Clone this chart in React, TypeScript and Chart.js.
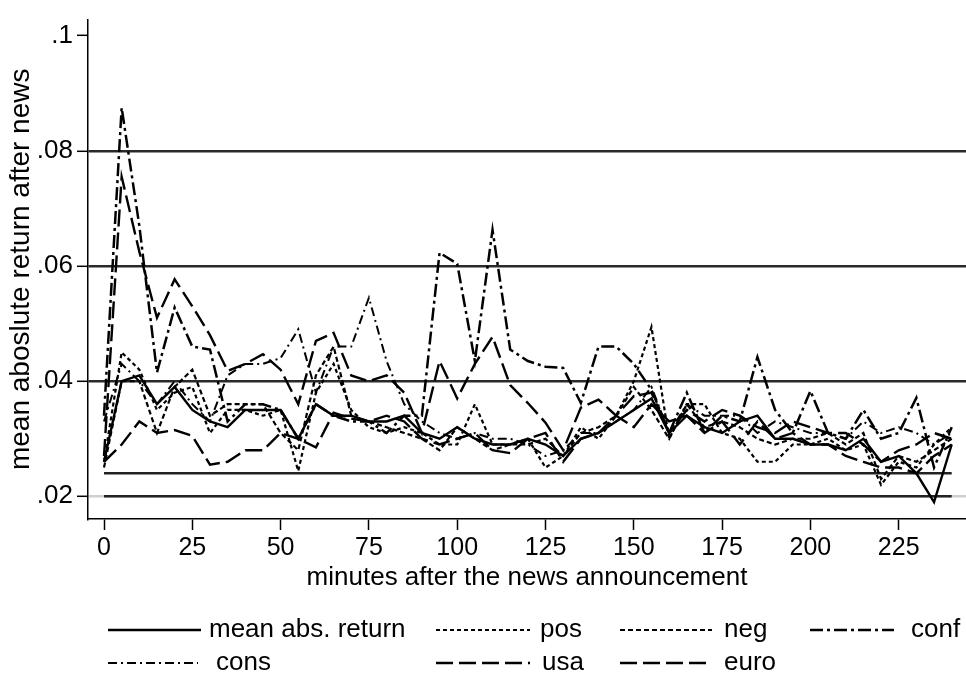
import React, { useEffect, useRef } from "react";
import { Chart, registerables } from "chart.js";

Chart.register(...registerables);

const minutes = [0, 5, 10, 15, 20, 25, 30, 35, 40, 45, 50, 55, 60, 65, 70, 75, 80, 85, 90, 95, 100, 105, 110, 115, 120, 125, 130, 135, 140, 145, 150, 155, 160, 165, 170, 175, 180, 185, 190, 195, 200, 205, 210, 215, 220, 225, 230, 235, 240];

const meanAbs = [0.026, 0.040, 0.041, 0.036, 0.039, 0.035, 0.033, 0.032, 0.035, 0.035, 0.035, 0.030, 0.036, 0.034, 0.034, 0.033, 0.033, 0.034, 0.031, 0.030, 0.032, 0.030, 0.029, 0.029, 0.030, 0.029, 0.027, 0.030, 0.031, 0.033, 0.035, 0.037, 0.031, 0.034, 0.032, 0.031, 0.033, 0.034, 0.030, 0.030, 0.029, 0.029, 0.028, 0.030, 0.026, 0.027, 0.024, 0.019, 0.029];
const pos = [0.026, 0.045, 0.042, 0.035, 0.038, 0.039, 0.031, 0.035, 0.035, 0.034, 0.035, 0.0244, 0.038, 0.043, 0.035, 0.032, 0.031, 0.032, 0.031, 0.029, 0.029, 0.036, 0.029, 0.029, 0.030, 0.025, 0.027, 0.032, 0.030, 0.034, 0.040, 0.0494, 0.030, 0.036, 0.036, 0.031, 0.030, 0.026, 0.026, 0.029, 0.029, 0.030, 0.028, 0.029, 0.022, 0.026, 0.025, 0.029, 0.032];
const neg = [0.025, 0.040, 0.040, 0.031, 0.039, 0.042, 0.034, 0.036, 0.036, 0.036, 0.031, 0.028, 0.041, 0.046, 0.034, 0.033, 0.032, 0.031, 0.030, 0.028, 0.032, 0.030, 0.028, 0.029, 0.029, 0.030, 0.027, 0.031, 0.032, 0.034, 0.039, 0.035, 0.030, 0.036, 0.032, 0.033, 0.032, 0.030, 0.029, 0.030, 0.030, 0.031, 0.029, 0.031, 0.023, 0.027, 0.026, 0.028, 0.030];
const conf = [0.034, 0.0875, 0.067, 0.0415, 0.0528, 0.046, 0.0455, 0.033, 0.036, 0.036, 0.035, 0.030, 0.036, 0.034, 0.033, 0.033, 0.031, 0.034, 0.034, 0.0623, 0.0604, 0.0435, 0.0663, 0.0455, 0.0435, 0.0425, 0.0423, 0.0362, 0.046, 0.046, 0.043, 0.0385, 0.031, 0.038, 0.031, 0.034, 0.033, 0.0442, 0.035, 0.031, 0.0383, 0.031, 0.030, 0.035, 0.030, 0.031, 0.0371, 0.025, 0.032];
const cons = [0.033, 0.043, 0.040, 0.036, 0.040, 0.036, 0.033, 0.041, 0.043, 0.043, 0.044, 0.049, 0.038, 0.046, 0.046, 0.0545, 0.0435, 0.036, 0.033, 0.031, 0.030, 0.031, 0.030, 0.030, 0.029, 0.027, 0.028, 0.031, 0.031, 0.033, 0.035, 0.039, 0.031, 0.036, 0.034, 0.034, 0.034, 0.031, 0.033, 0.032, 0.031, 0.031, 0.030, 0.033, 0.031, 0.032, 0.031, 0.029, 0.031];
const usa = [0.027, 0.0755, 0.0625, 0.051, 0.0577, 0.053, 0.048, 0.0418, 0.043, 0.0447, 0.042, 0.036, 0.047, 0.0484, 0.041, 0.040, 0.041, 0.038, 0.031, 0.0435, 0.037, 0.043, 0.0477, 0.0393, 0.0362, 0.0328, 0.028, 0.0354, 0.0368, 0.034, 0.0374, 0.038, 0.031, 0.035, 0.033, 0.035, 0.034, 0.032, 0.031, 0.033, 0.032, 0.031, 0.031, 0.029, 0.026, 0.028, 0.029, 0.031, 0.030];
const euro = [0.026, 0.029, 0.033, 0.031, 0.0315, 0.0305, 0.0255, 0.026, 0.028, 0.028, 0.031, 0.030, 0.0285, 0.0345, 0.0335, 0.033, 0.034, 0.033, 0.030, 0.029, 0.030, 0.031, 0.028, 0.0275, 0.030, 0.031, 0.026, 0.030, 0.031, 0.034, 0.032, 0.036, 0.033, 0.034, 0.031, 0.033, 0.029, 0.033, 0.030, 0.031, 0.029, 0.029, 0.027, 0.026, 0.025, 0.025, 0.024, 0.027, 0.029];

const refLevels = [0.024, 0.02];
const yTicks = [0.02, 0.04, 0.06, 0.08, 0.1];
const yTickLabels = [".02", ".04", ".06", ".08", ".1"];
const xTicks = [0, 25, 50, 75, 100, 125, 150, 175, 200, 225];

const FONT = "'Liberation Sans', Arial, Helvetica, sans-serif";

const seriesDefs = [
  { label: "mean abs. return", data: meanAbs, dash: [], width: 2.4 },
  { label: "pos", data: pos, dash: [4, 3], width: 2.2 },
  { label: "neg", data: neg, dash: [5, 3], width: 2.2 },
  { label: "conf", data: conf, dash: [13, 4, 3, 4], width: 2.5 },
  { label: "cons", data: cons, dash: [9, 4, 2, 4], width: 2 },
  { label: "usa", data: usa, dash: [17, 6], width: 2.4 },
  { label: "euro", data: euro, dash: [17, 6], width: 2.4 },
];

// legend layout: [row, lineStart, lineEnd, textX]
const legendLayout = [
  [0, 108, 201, 209],
  [0, 436, 530, 540],
  [0, 620, 712, 724],
  [0, 810, 894, 911],
  [1, 108, 198, 216],
  [1, 436, 530, 542],
  [1, 620, 712, 724],
];
const legendRowsY = [630, 663];

const legendPlugin = {
  id: "stataLegend",
  afterDraw(chart: any) {
    const ctx = chart.ctx;
    ctx.save();
    ctx.font = `26px ${FONT}`;
    ctx.textBaseline = "middle";
    ctx.fillStyle = "#000";
    seriesDefs.forEach((s, i) => {
      const [row, x1, x2, tx] = legendLayout[i];
      const y = legendRowsY[row];
      ctx.beginPath();
      ctx.strokeStyle = "#000";
      ctx.lineWidth = s.width;
      ctx.setLineDash(s.dash);
      ctx.moveTo(x1, y);
      ctx.lineTo(x2, y);
      ctx.stroke();
      ctx.setLineDash([]);
      ctx.fillText(s.label, tx, y);
    });
    ctx.restore();
  },
};

export default function App() {
  const ref = useRef<HTMLCanvasElement | null>(null);
  useEffect(() => {
    if (!ref.current) return;
    const datasets: any[] = refLevels.map((lv) => ({
      label: "ref",
      data: [
        { x: minutes[0], y: lv },
        { x: minutes[minutes.length - 1], y: lv },
      ],
      borderColor: "#222",
      borderWidth: 2.6,
      pointRadius: 0,
      order: 10,
    }));
    seriesDefs.forEach((s) => {
      datasets.push({
        label: s.label,
        data: minutes.map((m, i) => ({ x: m, y: s.data[i] })),
        borderColor: "#000",
        borderWidth: s.width,
        borderDash: s.dash,
        pointRadius: 0,
        tension: 0,
        fill: false,
      });
    });
    const chart = new Chart(ref.current, {
      type: "line",
      data: { datasets },
      plugins: [legendPlugin],
      options: {
        animation: false,
        responsive: false,
        maintainAspectRatio: false,
        layout: { padding: { top: 6, right: 0, bottom: 86, left: 0 } },
        plugins: { legend: { display: false }, tooltip: { enabled: false } },
        scales: {
          x: {
            type: "linear",
            min: -4.53,
            max: 244.05,
            afterBuildTicks: (scale: any) => {
              scale.ticks = xTicks.map((v) => ({ value: v }));
            },
            afterFit: (scale: any) => {
              scale.height = 74;
            },
            ticks: {
              color: "#000",
              font: { family: FONT, size: 25 },
              padding: 3,
              maxRotation: 0,
              autoSkip: false,
              callback: (v: any) => String(v),
            },
            grid: { drawOnChartArea: false, tickLength: 11, tickColor: "#000", tickWidth: 1.5 },
            border: { display: true, color: "#000", width: 1.5 },
            title: {
              display: true,
              text: "minutes after the news announcement",
              color: "#000",
              font: { family: FONT, size: 26 },
              padding: { top: 0, bottom: 0 },
            },
          },
          y: {
            type: "linear",
            min: 0.01606,
            max: 0.1028,
            afterBuildTicks: (scale: any) => {
              scale.ticks = yTicks.map((v) => ({ value: v }));
            },
            afterFit: (scale: any) => {
              scale.width = 88;
            },
            ticks: {
              color: "#000",
              font: { family: FONT, size: 26 },
              padding: 4,
              autoSkip: false,
              callback: (v: any) => {
                const i = yTicks.findIndex((t) => Math.abs(t - v) < 1e-9);
                return i >= 0 ? yTickLabels[i] : "";
              },
            },
            grid: {
              drawOnChartArea: true,
              tickLength: 11,
              tickColor: "#000",
              tickWidth: 1.5,
              lineWidth: 2.6,
              color: (c: any) => {
                const v = c.tick ? c.tick.value : 0;
                if (Math.abs(v - 0.1) < 1e-9) return "rgba(0,0,0,0)";
                if (Math.abs(v - 0.02) < 1e-9) return "#cfcfcf";
                return "#2a2a2a";
              },
            },
            border: { display: true, color: "#000", width: 1.5 },
            title: {
              display: true,
              text: "mean aboslute return after news",
              color: "#000",
              font: { family: FONT, size: 28 },
              padding: { top: 4, bottom: 0 },
            },
          },
        },
      },
    });
    return () => chart.destroy();
  }, []);
  return (
    <div style={{ position: "fixed", left: 0, top: 0, width: 966, height: 679, background: "#fff" }}>
      <canvas ref={ref} width={966} height={679} style={{ width: 966, height: 679 }} />
    </div>
  );
}
